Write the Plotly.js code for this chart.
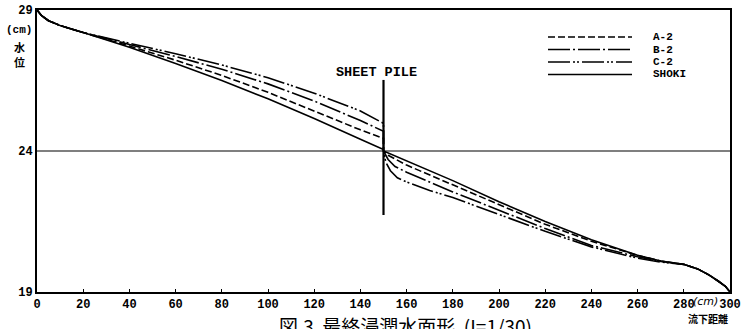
<!DOCTYPE html>
<html>
<head>
<meta charset="utf-8">
<script src="https://cdn.plot.ly/plotly-3.0.1.min.js"></script>
<style>html,body{margin:0;padding:0;background:#fff;}#chart{width:743px;height:329px;}</style>
</head>
<body>
<div id="chart"></div>
<script>
// ---- data ----
const seriesNames = ["A-2", "B-2", "C-2", "SHOKI"];
const xTickVals = [0,20,40,60,80,100,120,140,160,180,200,220,240,260,280,300];
const yTickVals = [19, 24, 29];

const xSHOKI = [0,2,5,10,20,30,40,60,80,100,120,140,150, 150,160,180,200,220,240,260,270,280,286,291,295,298,300];
const ySHOKI = [29,28.8,28.62,28.45,28.2,27.95,27.68,27.1,26.5,25.85,25.15,24.42,24.05, 24.0,23.65,22.95,22.2,21.5,20.85,20.3,20.1,19.98,19.82,19.6,19.38,19.2,19.0];

const xA2 = [0,2,5,10,20,30,40,60,80,100,120,140,150, 150,152,160,180,200,220,240,260,270,280,286,291,295,298,300];
const yA2 = [29,28.8,28.62,28.45,28.2,27.97,27.72,27.22,26.68,26.08,25.42,24.75,24.45, 24.0,23.85,23.5,22.8,22.1,21.4,20.8,20.3,20.1,19.98,19.82,19.6,19.38,19.2,19.0];

const xB2 = [0,2,5,10,20,30,40,60,80,100,120,140,150, 150,152,155,160,180,200,220,240,260,270,280,286,291,295,298,300];
const yB2 = [29,28.8,28.62,28.45,28.2,28.0,27.78,27.35,26.9,26.38,25.77,25.08,24.7, 24.0,23.7,23.45,23.25,22.55,21.9,21.25,20.65,20.25,20.08,19.98,19.82,19.6,19.38,19.2,19.0];

const xC2 = [0,2,5,10,20,30,40,60,80,100,120,140,150, 150,151,153,156,160,170,180,200,220,240,260,270,280,286,291,295,298,300];
const yC2 = [29,28.8,28.62,28.45,28.2,28.02,27.82,27.45,27.05,26.6,26.05,25.42,24.98, 24.0,23.6,23.3,23.05,22.9,22.6,22.35,21.75,21.15,20.6,20.2,20.06,19.98,19.82,19.6,19.38,19.2,19.0];

const pileX = 150;
const pileBottom = 21.73;
const pileTop = 26.52;
const referenceLevel = 24;

// ---- styles ----
const dashes = {
  "A-2": "7px,3px",
  "B-2": "22px,3px,2px,3px",
  "C-2": "22px,3px,2px,2px,2px,3px",
  "SHOKI": "solid"
};
const seriesData = {
  "A-2": [xA2, yA2],
  "B-2": [xB2, yB2],
  "C-2": [xC2, yC2],
  "SHOKI": [xSHOKI, ySHOKI]
};

const traces = seriesNames.map(n => ({
  type: "scatter", mode: "lines", name: n,
  x: seriesData[n][0], y: seriesData[n][1],
  line: {color: "#000", width: 1.6, dash: dashes[n]},
  showlegend: false, hoverinfo: "skip"
}));

const monoFont = {family: "Liberation Mono, DejaVu Sans Mono, monospace", size: 12, color: "#000", weight: "bold"};
const cjkFont = {family: "Noto Sans CJK JP", size: 11, color: "#000", weight: "bold"};

// plot area geometry in px (for paper conversions)
const L = 37, R = 13, T = 10, B = 37, W = 743, H = 329;
const pw = W - L - R, ph = H - T - B;
const px2x = p => (p - L) / pw;
const py2y = p => (H - B - p) / ph;

function note(text, xp, yp, font, xanchor) {
  return {text: text, xref: "paper", yref: "paper", x: px2x(xp), y: py2y(yp),
    xanchor: xanchor || "center", yanchor: "middle", showarrow: false, font: font};
}

const shapes = [
  {type: "line", xref: "x", yref: "y", x0: 0, x1: 300, y0: referenceLevel, y1: referenceLevel, line: {color: "#000", width: 1.2}},
  {type: "line", xref: "x", yref: "y", x0: pileX, x1: pileX, y0: pileBottom, y1: pileTop, line: {color: "#000", width: 2.2}}
];
const annotations = [
  note("SHEET PILE", 376, 72, {family: "Liberation Mono, monospace", size: 13.5, color: "#000", weight: "bold"}),
  note("(cm)", 19, 30, {family: "Liberation Mono, monospace", size: 11, color: "#000", weight: "bold"}),
  note("水", 19, 47, cjkFont),
  note("位", 19, 62, cjkFont),
  note("<i>(cm)</i>", 705, 301, {family: "DejaVu Sans, sans-serif", size: 11, color: "#000"}),
  note("流下距離", 708, 318, {family: "Noto Sans CJK JP", size: 10, color: "#000", weight: "bold"}),
  note("図.3  最終浸潤水面形  (I=1/30)", 405, 325, {family: "Noto Sans CJK JP", size: 19, color: "#000"})
];
const legendRows = [37, 49.5, 62, 74.5];
seriesNames.forEach((n, i) => {
  shapes.push({type: "line", xref: "paper", yref: "paper", x0: px2x(548), x1: px2x(632),
    y0: py2y(legendRows[i]), y1: py2y(legendRows[i]), line: {color: "#000", width: 1.6, dash: dashes[n]}});
  annotations.push(note(n, 651, legendRows[i], {family: "Liberation Mono, monospace", size: 11, color: "#000", weight: "bold"}, "left"));
});

const layout = {
  width: W, height: H,
  margin: {l: L, r: R, t: T, b: B, pad: 0},
  paper_bgcolor: "#fff", plot_bgcolor: "#fff",
  showlegend: false,
  xaxis: {range: [0, 300], tickvals: xTickVals, ticktext: xTickVals.map(String),
    showgrid: false, zeroline: false, showline: true, mirror: true, linecolor: "#000", linewidth: 2,
    ticks: "inside", ticklen: 3, tickcolor: "#000", tickfont: monoFont},
  yaxis: {range: [19, 29], tickvals: yTickVals, ticktext: yTickVals.map(String),
    showgrid: false, zeroline: false, showline: true, mirror: true, linecolor: "#000", linewidth: 2,
    ticks: "", tickfont: monoFont},
  shapes: shapes,
  annotations: annotations
};

Plotly.newPlot("chart", traces, layout, {staticPlot: true, displayModeBar: false});
</script>
</body>
</html>
